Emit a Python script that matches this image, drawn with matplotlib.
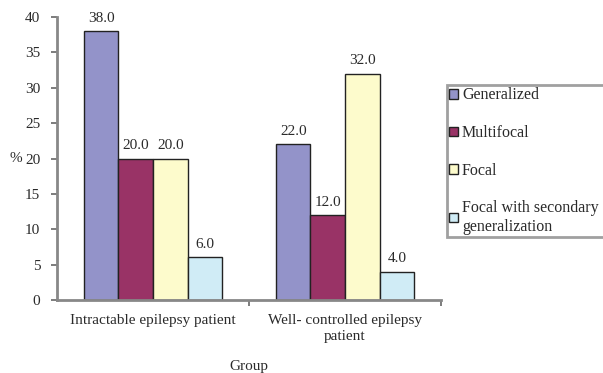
import numpy as np
import matplotlib.pyplot as plt

plt.rcParams['font.family'] = ['Liberation Serif', 'DejaVu Serif']

groups = ['Intractable epilepsy patient', 'Well- controlled epilepsy\npatient']
series = ['Generalized', 'Multifocal', 'Focal', 'Focal with secondary\ngeneralization']
values = [
    [38.0, 22.0],
    [20.0, 12.0],
    [20.0, 32.0],
    [6.0, 4.0],
]
colors = ['#9393c9', '#993366', '#fdfbcc', '#d0ecf6']

fs = 11
txt = '#2a2a2a'

fig = plt.figure(figsize=(6.03, 3.73), dpi=100)
ax = fig.add_axes([0.0945, 0.196, 0.637, 0.758])

x = np.arange(len(groups))
w = 0.18
for i, (name, vals, c) in enumerate(zip(series, values, colors)):
    pos = x + (i - 1.5) * w
    ax.bar(pos, vals, w, color=c, edgecolor='#222222', linewidth=1.0, label=name)
    for p, v in zip(pos, vals):
        ax.text(p, v + 0.9, f'{v:.1f}', ha='center', va='bottom', fontsize=fs, color=txt)

ax.set_xlim(-0.5, 1.5)
ax.set_ylim(0, 40)
ax.set_yticks(range(0, 41, 5))
ax.set_xticks([0.5, 1.5], minor=False)
ax.set_xticklabels([])
ax.set_xticks(x, minor=True)
ax.set_xticklabels(groups, minor=True, fontsize=fs, color=txt, linespacing=1.35)
ax.tick_params(axis='x', which='minor', length=0, pad=10)
ax.tick_params(axis='x', which='major', length=4, width=1.2, color='#666666', direction='out')
ax.tick_params(axis='y', length=4, width=1.2, color='#666666', labelsize=fs,
               labelcolor=txt, pad=8)

for s in ['top', 'right']:
    ax.spines[s].set_visible(False)
for s in ['left', 'bottom']:
    ax.spines[s].set_color('#888888')
    ax.spines[s].set_linewidth(2)

# "%" sits right beside the 20 tick label
ax.text(-0.092, 0.5, '%', transform=ax.transAxes, ha='right', va='center',
        fontsize=fs, color=txt)
ax.set_xlabel('Group', fontsize=fs, color=txt, labelpad=12)

# legend box runs past the right edge of the figure
leg = fig.legend(loc='upper left', bbox_to_anchor=(0.741, 0.772, 0.3, 0), mode='expand',
                 fontsize=11.5, frameon=True, fancybox=False, handlelength=0.55,
                 handleheight=0.55, handletextpad=0.25, labelspacing=1.35,
                 borderpad=0.15, borderaxespad=0)
for t in leg.get_texts():
    t.set_color(txt)
leg.get_frame().set_edgecolor('#888888')
leg.get_frame().set_linewidth(2)

fig.savefig('out.png', dpi=100)
